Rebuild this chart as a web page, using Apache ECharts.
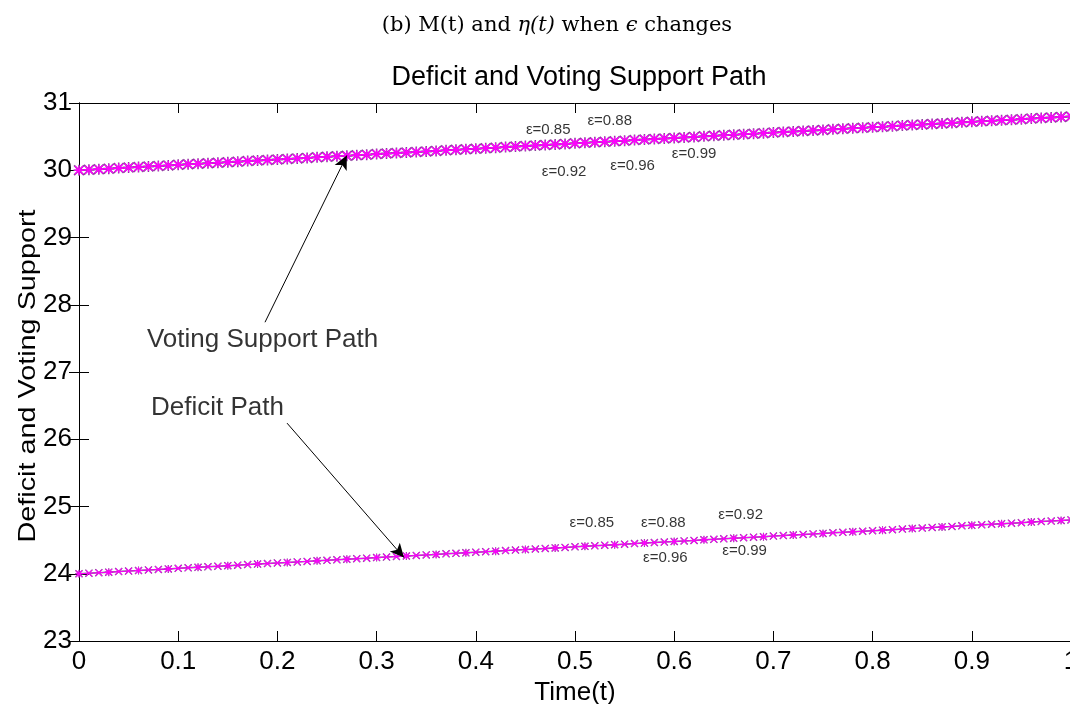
<!DOCTYPE html>
<html><head><meta charset="utf-8">
<script src="https://cdn.jsdelivr.net/npm/echarts@6/dist/echarts.min.js"></script>
<style>html,body{margin:0;padding:0;background:#fff}#c{width:1070px;height:704px}</style>
</head><body><div id="c"></div>
<script>
// time grid t (0..1 step 0.01)
const time = [0,0.01,0.02,0.03,0.04,0.05,0.06,0.07,0.08,0.09,0.1,0.11,0.12,0.13,0.14,0.15,0.16,0.17,0.18,0.19,0.2,0.21,0.22,0.23,0.24,0.25,0.26,0.27,0.28,0.29,0.3,0.31,0.32,0.33,0.34,0.35,0.36,0.37,0.38,0.39,0.4,0.41,0.42,0.43,0.44,0.45,0.46,0.47,0.48,0.49,0.5,0.51,0.52,0.53,0.54,0.55,0.56,0.57,0.58,0.59,0.6,0.61,0.62,0.63,0.64,0.65,0.66,0.67,0.68,0.69,0.7,0.71,0.72,0.73,0.74,0.75,0.76,0.77,0.78,0.79,0.8,0.81,0.82,0.83,0.84,0.85,0.86,0.87,0.88,0.89,0.9,0.91,0.92,0.93,0.94,0.95,0.96,0.97,0.98,0.99,1];
// Voting support path
const voting = [30.000,30.008,30.016,30.024,30.032,30.040,30.048,30.056,30.064,30.072,30.080,30.088,30.096,30.104,30.112,30.120,30.128,30.136,30.144,30.152,30.160,30.168,30.176,30.184,30.192,30.200,30.208,30.216,30.224,30.232,30.240,30.248,30.256,30.264,30.272,30.280,30.288,30.296,30.304,30.312,30.320,30.328,30.336,30.344,30.352,30.360,30.368,30.376,30.384,30.392,30.400,30.408,30.416,30.424,30.432,30.440,30.448,30.456,30.464,30.472,30.480,30.488,30.496,30.504,30.512,30.520,30.528,30.536,30.544,30.552,30.560,30.568,30.576,30.584,30.592,30.600,30.608,30.616,30.624,30.632,30.640,30.648,30.656,30.664,30.672,30.680,30.688,30.696,30.704,30.712,30.720,30.728,30.736,30.744,30.752,30.760,30.768,30.776,30.784,30.792,30.800];
// Deficit path
const deficit = [24.000,24.008,24.016,24.024,24.032,24.040,24.048,24.056,24.064,24.072,24.080,24.088,24.096,24.104,24.112,24.120,24.128,24.136,24.144,24.152,24.160,24.168,24.176,24.184,24.192,24.200,24.208,24.216,24.224,24.232,24.240,24.248,24.256,24.264,24.272,24.280,24.288,24.296,24.304,24.312,24.320,24.328,24.336,24.344,24.352,24.360,24.368,24.376,24.384,24.392,24.400,24.408,24.416,24.424,24.432,24.440,24.448,24.456,24.464,24.472,24.480,24.488,24.496,24.504,24.512,24.520,24.528,24.536,24.544,24.552,24.560,24.568,24.576,24.584,24.592,24.600,24.608,24.616,24.624,24.632,24.640,24.648,24.656,24.664,24.672,24.680,24.688,24.696,24.704,24.712,24.720,24.728,24.736,24.744,24.752,24.760,24.768,24.776,24.784,24.792,24.800];
// epsilon labels: [t, value, text]
const epsTop = [[0.473,30.594,'ε=0.85'],[0.535,30.728,'ε=0.88'],[0.489,29.970,'ε=0.92'],[0.558,30.059,'ε=0.96'],[0.620,30.238,'ε=0.99']];
const epsBottom = [[0.517,24.757,'ε=0.85'],[0.589,24.757,'ε=0.88'],[0.667,24.876,'ε=0.92'],[0.591,24.237,'ε=0.96'],[0.671,24.341,'ε=0.99']];
// annotations: text anchor [t, value] and arrow from/to
const annVoting = {text:'Voting Support Path', at:[0.0685,27.475], from:[0.1875,27.74], to:[0.270,30.22]};
const annDeficit = {text:'Deficit Path', at:[0.0726,26.465], from:[0.2097,26.24], to:[0.3276,24.24]};

// filled-outline marker shapes
const star = 'path://M4.3,0L5.7,0L5.7,10L4.3,10ZM10,4.3L10,5.7L0,5.7L0,4.3ZM0,1.1L1.1,0L10,8.9L8.9,10ZM8.9,0L10,1.1L1.1,10L0,8.9Z';
const cross = 'path://M0,1.1L1.1,0L10,8.9L8.9,10ZM8.9,0L10,1.1L1.1,10L0,8.9Z';
const pts = arr => time.map((t,i)=>[t,arr[i]]);
const defSym = (v,p)=> (p.dataIndex%3===0 ? star : cross);

const chart = echarts.init(document.getElementById('c'), null, {renderer:'canvas'});
const F = 'Liberation Sans';
const option = {
  backgroundColor:'#fff',
  animation:false,
  title:[
    {text:'(b) M(t) and {i|η(t)} when {i|ϵ} changes', left:552, top:10, textAlign:'center',
      textStyle:{fontFamily:'DejaVu Serif', fontSize:21, fontWeight:'normal', color:'#000',
        rich:{i:{fontFamily:'DejaVu Serif', fontStyle:'italic', fontSize:21, color:'#000'}}}},
    {text:'Deficit and Voting Support Path', left:574, top:59, textAlign:'center',
      textStyle:{fontFamily:F, fontSize:27, fontWeight:'normal', color:'#000'}}
  ],
  grid:{left:79, top:103, width:992, height:538, containLabel:false, outerBoundsMode:'none'},
  xAxis:[
    {type:'value', min:0, max:1, interval:0.1, position:'bottom',
      name:'Time(t)', nameLocation:'middle', nameGap:31,
      nameTextStyle:{fontFamily:F, fontSize:26, color:'#000'},
      axisLine:{show:true, lineStyle:{color:'#000', width:1}},
      axisTick:{show:true, inside:true, length:10, lineStyle:{color:'#000'}},
      axisLabel:{show:true, margin:8, fontFamily:F, fontSize:26, color:'#000', hideOverlap:false,
        formatter:v=>String(Math.round(v*10)/10)},
      splitLine:{show:false}},
    {type:'value', min:0, max:1, interval:0.1, position:'top',
      axisLine:{show:true, lineStyle:{color:'#000', width:1}},
      axisTick:{show:true, inside:true, length:10, lineStyle:{color:'#000'}},
      axisLabel:{show:false}, splitLine:{show:false}}
  ],
  yAxis:[
    {type:'value', min:23, max:31, interval:1, position:'left',
      axisLine:{show:true, lineStyle:{color:'#000'}},
      axisTick:{show:true, inside:true, length:10, lineStyle:{color:'#000'}},
      axisLabel:{show:true, margin:7, fontFamily:F, fontSize:26, color:'#000'},
      splitLine:{show:false}},
    {type:'value', min:23, max:31, interval:1, position:'right',
      axisLine:{show:true, lineStyle:{color:'#000'}},
      axisTick:{show:true, inside:true, length:10, lineStyle:{color:'#000'}},
      axisLabel:{show:false}, splitLine:{show:false}}
  ],
  graphic:[
    {type:'text', x:28, y:376, rotation:Math.PI/2, scaleX:1.2, silent:true,
      style:{text:'Deficit and Voting Support', fontFamily:F, fontSize:24, fill:'#000', align:'center', verticalAlign:'middle'}}
  ],
  series:[
    {type:'line', name:'voting-base', data:pts(voting), symbol:star, symbolSize:11, showAllSymbol:true,
      lineStyle:{color:'#8e3f9e', width:2}, itemStyle:{color:'#8e3f9e', borderWidth:0},
      silent:true, z:2},
    {type:'line', name:'voting', data:pts(voting), symbol:star, symbolSize:9, showAllSymbol:true,
      lineStyle:{color:'#ff00ff', width:1.2}, itemStyle:{color:'#ff00ff', borderWidth:0},
      silent:true, z:3,
      markLine:{silent:true, symbol:['none','arrow'], symbolSize:[10,14],
        lineStyle:{color:'#000', width:1, type:'solid'}, label:{show:false},
        data:[[{coord:annVoting.from},{coord:annVoting.to}],[{coord:annDeficit.from},{coord:annDeficit.to}]]}},
    {type:'line', name:'deficit-base', data:pts(deficit), symbol:defSym, symbolSize:8, showAllSymbol:true,
      lineStyle:{color:'#7a4a8a', width:1.5}, itemStyle:{color:'#7a4a8a', borderWidth:0},
      silent:true, z:2},
    {type:'line', name:'deficit', data:pts(deficit), symbol:defSym, symbolSize:7, showAllSymbol:true,
      lineStyle:{color:'#ff00ff', width:1}, itemStyle:{color:'#ff00ff', borderWidth:0},
      silent:true, z:3},
    {type:'scatter', name:'labels', symbolSize:0, silent:true, z:5,
      data:[...epsTop, ...epsBottom].map(e=>({value:[e[0],e[1]], name:e[2]})),
      label:{show:true, position:'inside', formatter:p=>p.name, fontFamily:F, fontSize:15, color:'#000', textBorderWidth:0}},
    {type:'scatter', name:'ann', symbolSize:0, silent:true, z:5,
      data:[annVoting, annDeficit].map(a=>({value:a.at, name:a.text})),
      label:{show:true, position:'right', distance:0, formatter:p=>p.name, fontFamily:F, fontSize:26, color:'#000', textBorderWidth:0}}
  ]
};
chart.setOption(option);
</script></body></html>
